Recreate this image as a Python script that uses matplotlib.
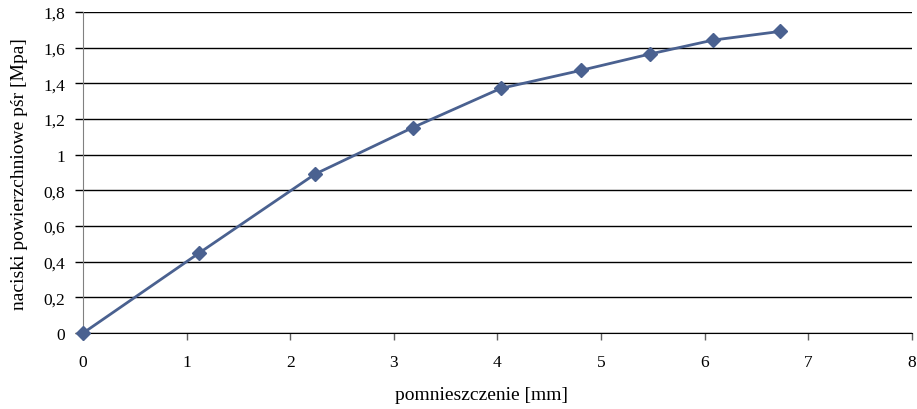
import matplotlib
matplotlib.use("Agg")
import matplotlib.pyplot as plt
from matplotlib.ticker import FuncFormatter

x_mm = [0, 1.12, 2.24, 3.18, 4.03, 4.81, 5.47, 6.08, 6.73]
p_mpa = [0.0, 0.449, 0.892, 1.152, 1.372, 1.474, 1.565, 1.643, 1.692]
x_ticks = [0, 1, 2, 3, 4, 5, 6, 7, 8]
y_ticks = [0, 0.2, 0.4, 0.6, 0.8, 1.0, 1.2, 1.4, 1.6, 1.8]

plt.rcParams['font.family'] = ['Liberation Serif', 'DejaVu Serif']

fig = plt.figure(figsize=(9.17, 4.10), dpi=100)
ax = fig.add_axes([0.0905, 0.185, 0.904, 0.783])

ax.plot(x_mm, p_mpa, color='#4a6190', lw=2, marker='D', ms=7, mfc='#4a6190', mec='#4a6190', zorder=3, clip_on=False)

ax.set_xlim(0, 8)
ax.set_ylim(0, 1.8)
ax.set_xticks(x_ticks)
ax.set_yticks(y_ticks)
fmt = FuncFormatter(lambda v, p: ('%g' % round(v, 1)).replace('.', ','))
ax.yaxis.set_major_formatter(fmt)
ax.xaxis.set_major_formatter(FuncFormatter(lambda v, p: '%d' % v))

ax.grid(axis='y', color='black', lw=1)
ax.set_axisbelow(True)
for s in ['top', 'right']:
    ax.spines[s].set_visible(False)
ax.spines['left'].set_color('#808080')
ax.spines['bottom'].set_color('black')
ax.tick_params(axis='y', length=6, width=1, color='black', labelsize=12.5, pad=7)
ax.tick_params(axis='x', length=5, width=1, color='#606060', labelsize=12.5, pad=10, direction='out')

ax.set_xlabel('pomnieszczenie [mm]', fontsize=14)
ax.set_ylabel('naciski powierzchniowe pśr [Mpa]', fontsize=14)
ax.xaxis.set_label_coords((482 - 83) / 829, -(395 - 334) / 321)
ax.yaxis.set_label_coords(-(83 - 20) / 829, 0.5)
ax.xaxis.label.set_va('center')
ax.yaxis.label.set_va('center')

fig.savefig('out.png', dpi=100)
